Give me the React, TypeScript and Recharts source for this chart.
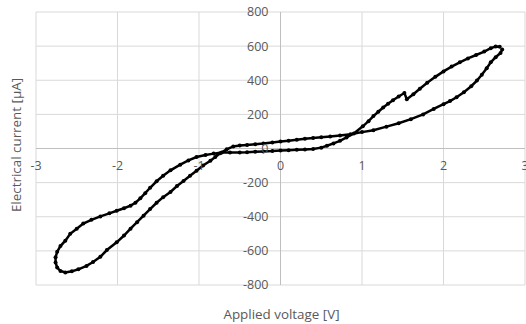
import React from 'react';
import {
  CartesianGrid,
  ReferenceDot,
  ReferenceLine,
  Scatter,
  ScatterChart,
  XAxis,
  YAxis,
} from 'recharts';

// Applied voltage [V], in sweep order (starts at the turning point near +2.7 V)
const voltage = [
  2.72, 2.7, 2.64, 2.58, 2.53, 2.47, 2.41, 2.34, 2.25, 2.16, 2.08, 2.0, 1.88, 1.75, 1.6,
  1.45, 1.3, 1.14, 1.0, 0.86, 0.73, 0.61, 0.5, 0.4, 0.3, 0.2, 0.1, 0.0, -0.1, -0.21,
  -0.31, -0.41, -0.5, -0.58, -0.66, -0.74, -0.8, -0.86, -0.95, -1.03, -1.11, -1.19,
  -1.27, -1.35, -1.44, -1.52, -1.6, -1.68, -1.76, -1.84, -1.92, -2.01, -2.13, -2.21,
  -2.3, -2.38, -2.48, -2.56, -2.64, -2.7, -2.74, -2.76, -2.76, -2.74, -2.7, -2.64,
  -2.58, -2.5, -2.42, -2.32, -2.21, -2.1, -2.01, -1.92, -1.84, -1.78, -1.72, -1.66,
  -1.6, -1.52, -1.44, -1.35, -1.23, -1.13, -1.03, -0.92, -0.82, -0.72, -0.62, -0.5,
  -0.41, -0.31, -0.21, -0.1, 0.0, 0.1, 0.2, 0.3, 0.4, 0.5, 0.57, 0.65, 0.73, 0.81,
  0.9, 1.01, 1.08, 1.14, 1.2, 1.26, 1.32, 1.38, 1.45, 1.52,
  1.55, 1.63, 1.71, 1.8, 1.9, 2.0, 2.1, 2.2, 2.3, 2.4, 2.5, 2.58, 2.64, 2.69,
];

// Electrical current [µA]
const current = [
  580, 560, 535, 505, 470, 432, 398, 365, 330, 300, 278, 260, 232, 200, 172,
  148, 128, 107, 96, 84, 76, 70, 66, 62, 57, 51, 46, 41, 35, 29,
  25, 21, 18, 12, -5, -28, -50, -72, -100, -130, -160, -190,
  -220, -255, -285, -318, -355, -394, -432, -470, -510, -550, -595, -635,
  -665, -688, -708, -720, -727, -718, -698, -668, -638, -605, -572, -540,
  -500, -470, -440, -418, -398, -380, -365, -350, -335, -318, -292, -262,
  -230, -192, -160, -128, -95, -70, -50, -38, -30, -24, -23, -23,
  -22, -19, -17, -15, -12, -10, -8, -6, -3, 5, 16, 30, 45, 65,
  88, 130, 160, 190, 215, 240, 262, 283, 305, 325,
  289, 318, 350, 385, 420, 452, 480, 505, 528, 548, 568, 588, 598, 597,
];

const xTicks = [-3, -2, -1, 0, 1, 2, 3];
const yTicks = [-800, -600, -400, -200, 0, 200, 400, 600, 800];

const xTitle = 'Applied voltage [V]';
const yTitle = 'Electrical current [µA]';

const FONT = '"Open Sans", sans-serif';
const TEXT = '#595959';

const data = voltage.map((v, i) => ({ v, c: current[i] }));

const Marker = (props: any) => <circle cx={props.cx} cy={props.cy} r={2} fill="#000" />;

export default function App() {
  return (
    <div style={{ position: 'absolute', left: 0, top: 0, width: 526, height: 324, background: '#fff', fontFamily: FONT }}>
      <ScatterChart width={526} height={324} margin={{ top: 12, right: 1, bottom: 39, left: 36 }}>
        <XAxis type="number" dataKey="v" domain={[-3, 3]} ticks={xTicks} hide />
        <YAxis type="number" dataKey="c" domain={[-800, 800]} ticks={yTicks} hide />
        <CartesianGrid stroke="#d9d9d9" strokeWidth={1} />
        <ReferenceLine x={0} stroke="#bfbfbf" strokeWidth={1} />
        <ReferenceLine y={0} stroke="#bfbfbf" strokeWidth={1} />
        {xTicks.map((t) => (
          <ReferenceDot
            key={`x${t}`}
            x={t}
            y={0}
            r={0}
            stroke="none"
            label={{ value: t, position: 'bottom', offset: 13, fill: TEXT, fontSize: 12.5, fontFamily: FONT }}
          />
        ))}
        {yTicks.map((t) => (
          <ReferenceDot
            key={`y${t}`}
            x={0}
            y={t}
            r={0}
            stroke="none"
            label={{ value: t, position: 'left', offset: 12, fill: TEXT, fontSize: 12.5, fontFamily: FONT }}
          />
        ))}
        <Scatter
          data={data}
          line={{ stroke: '#000', strokeWidth: 2.5 }}
          lineJointType="linear"
          shape={Marker}
          isAnimationActive={false}
        />
      </ScatterChart>
      <div
        style={{
          position: 'absolute', left: 16, top: 145, transform: 'translate(-50%, -50%) rotate(-90deg)',
          whiteSpace: 'nowrap', fontSize: 13.4, color: TEXT,
        }}
      >
        {yTitle}
      </div>
      <div
        style={{
          position: 'absolute', left: 281.5, top: 314, transform: 'translate(-50%, -50%)',
          whiteSpace: 'nowrap', fontSize: 13.4, color: TEXT,
        }}
      >
        {xTitle}
      </div>
    </div>
  );
}
